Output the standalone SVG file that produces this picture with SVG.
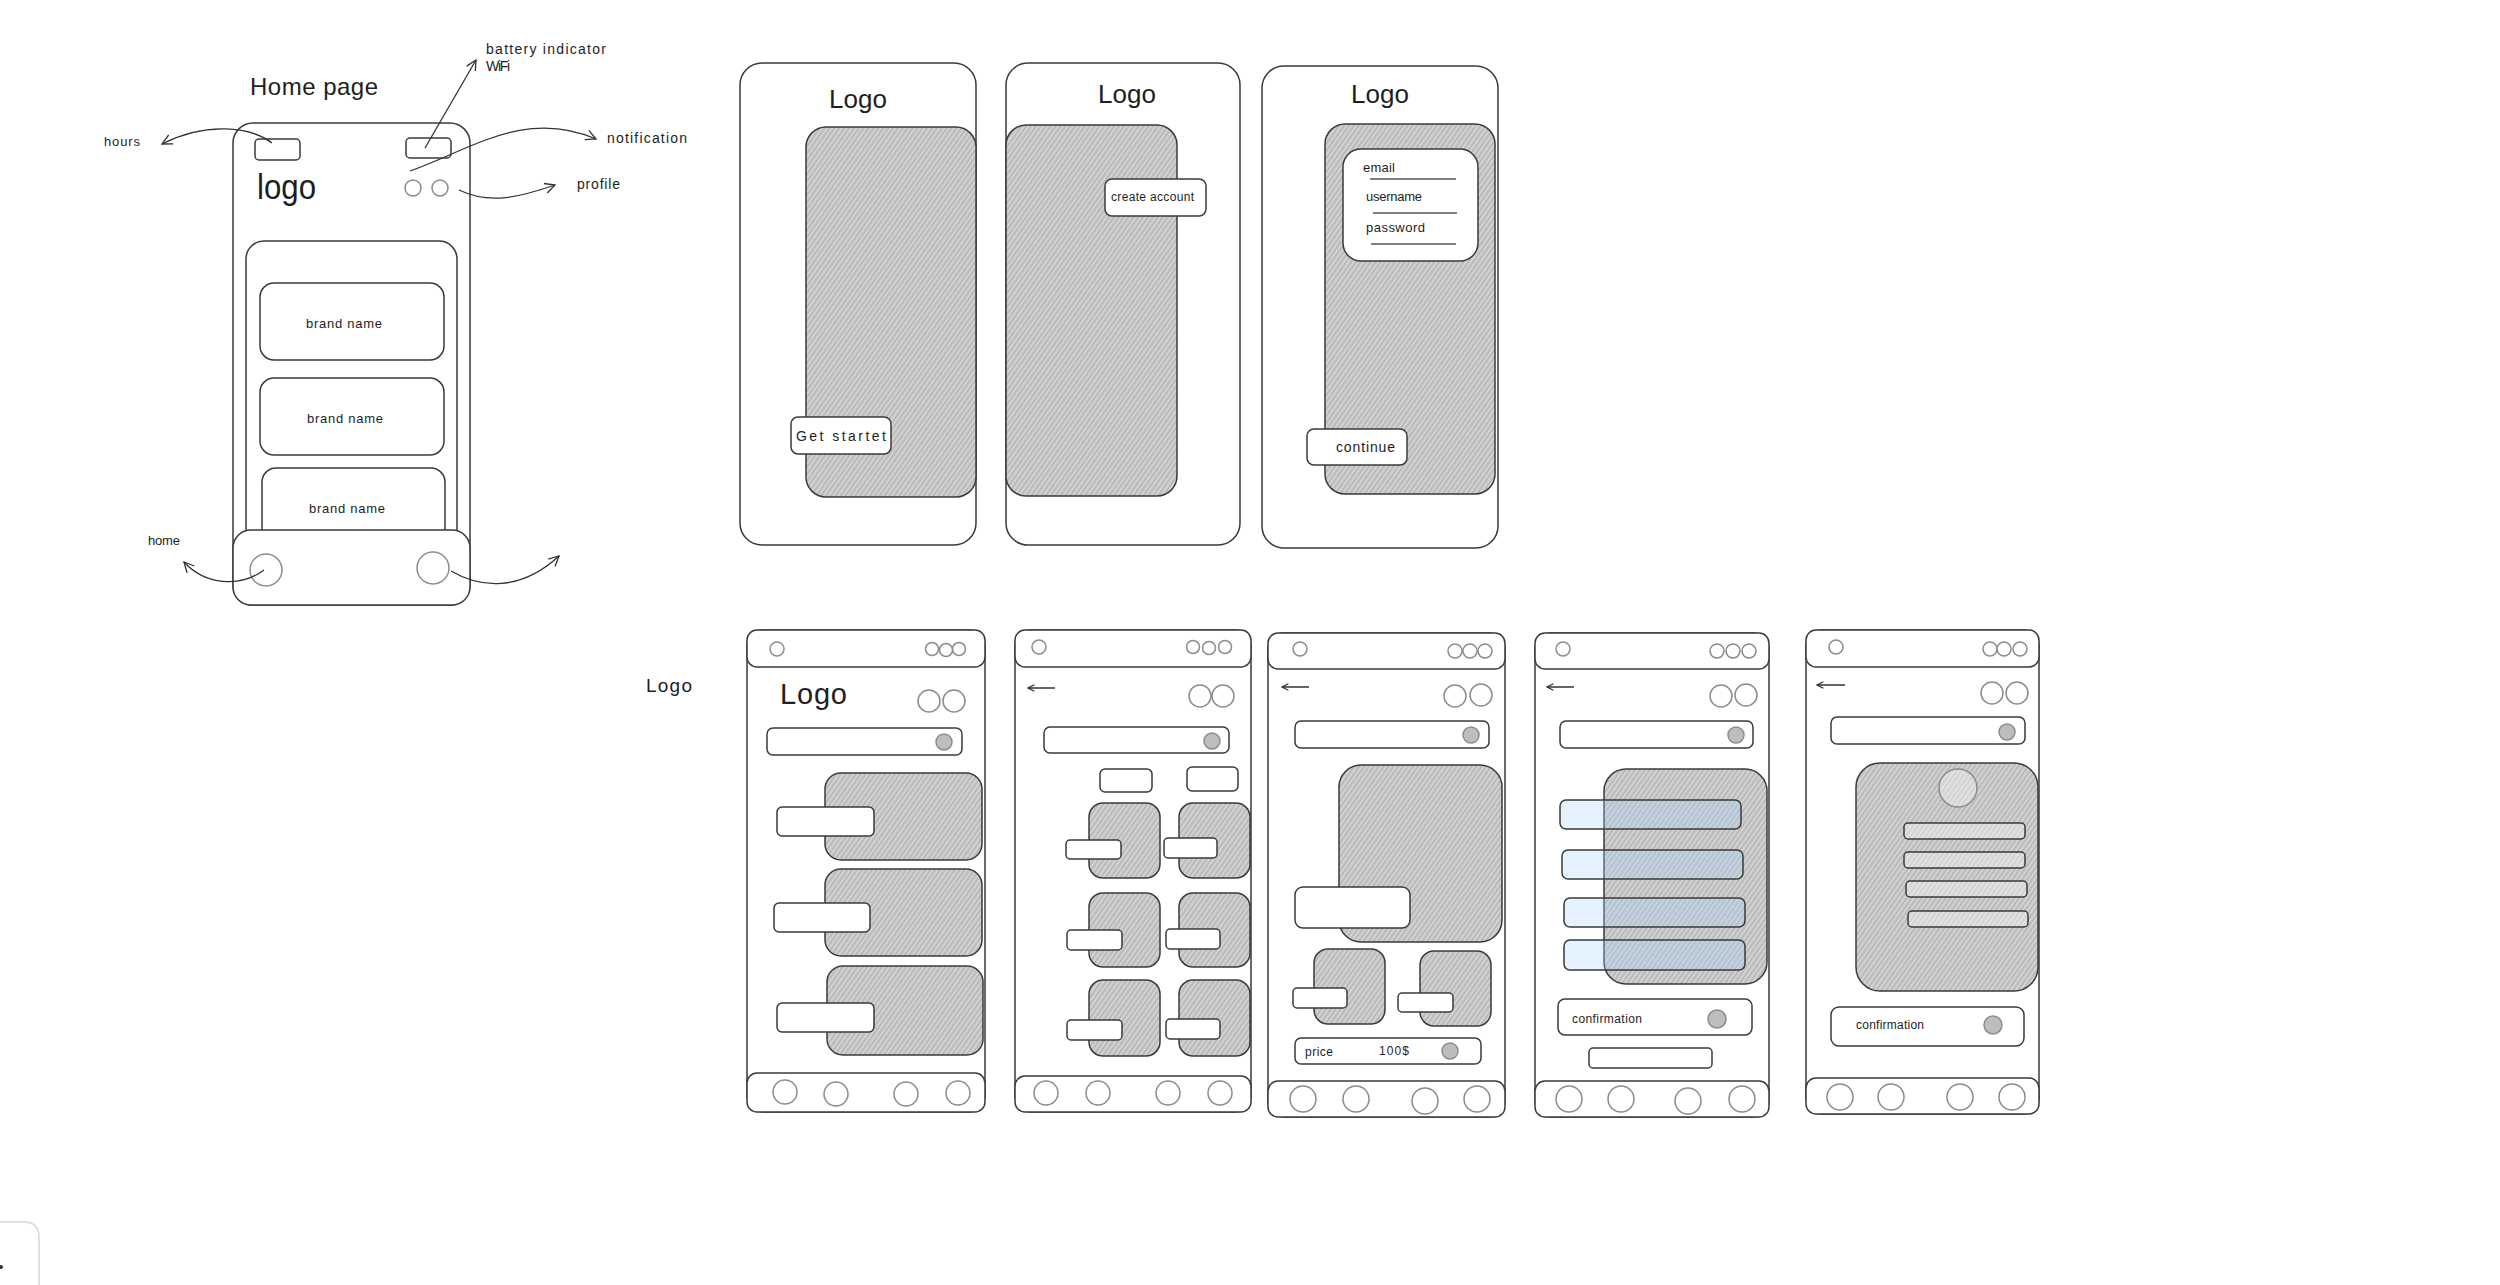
<svg xmlns="http://www.w3.org/2000/svg" width="2500" height="1285" viewBox="0 0 2500 1285">
<defs>
<pattern id="hatch" patternUnits="userSpaceOnUse" width="4" height="4" patternTransform="rotate(35)"><rect width="4" height="4" fill="#d2d2d2"/><line x1="1" y1="0" x2="1" y2="4" stroke="#a6a6a6" stroke-width="1.1"/></pattern>
<pattern id="hatchL" patternUnits="userSpaceOnUse" width="4" height="4" patternTransform="rotate(35)"><rect width="4" height="4" fill="#e2e2e2"/><line x1="1" y1="0" x2="1" y2="4" stroke="#c4c4c4" stroke-width="1"/></pattern>
<marker id="arr" viewBox="0 0 12 12" refX="11" refY="6" markerWidth="12" markerHeight="12" markerUnits="userSpaceOnUse" orient="auto"><path d="M1,1 L11,6 L1,11" fill="none" stroke="#333" stroke-width="1.3"/></marker>
<marker id="back" viewBox="0 0 10 10" refX="1" refY="5" markerWidth="8" markerHeight="8" markerUnits="userSpaceOnUse" orient="auto"><path d="M9,1 L1,5 L9,9" fill="none" stroke="#333" stroke-width="1.6"/></marker>
<style>
.s{fill:#fff;stroke:#3a3a3a;stroke-width:1.5}
.n{fill:none;stroke:#3a3a3a;stroke-width:1.5}
.g{fill:url(#hatch);stroke:#3a3a3a;stroke-width:1.5}
.gl{fill:url(#hatchL);stroke:#3a3a3a;stroke-width:1.5}
.b{fill:#a5d8ff;fill-opacity:.3;stroke:#3a3a3a;stroke-width:1.5}
.c{fill:none;stroke:#8c8c8c;stroke-width:1.5}
.gc{fill:#bdbdbd;stroke:#8c8c8c;stroke-width:1.5}
.ln{fill:none;stroke:#555;stroke-width:1.5}
.con{fill:none;stroke:#333;stroke-width:1.3;marker-end:url(#arr)}
.bk{fill:none;stroke:#333;stroke-width:1.5;marker-start:url(#back)}
text{font-family:"Liberation Sans","DejaVu Sans",sans-serif;fill:#1e1e1e}
.t11{font-size:12px}
.t12{font-size:13px}
.t13{font-size:14px}
.mid{text-anchor:middle}
</style>
</defs>
<rect width="2500" height="1285" fill="#fff"/>

<g id="home-page">
<text x="250" y="95" style="font-size:24px" textLength="128" lengthAdjust="spacing">Home page</text>
<rect class="s" x="233" y="123" width="237" height="482" rx="20"/>
<rect class="s" x="255" y="139" width="45" height="21" rx="4"/>
<rect class="s" x="406" y="138" width="45" height="20" rx="4"/>
<text x="257" y="199" style="font-size:35px" textLength="59" lengthAdjust="spacingAndGlyphs">logo</text>
<circle class="c" cx="413" cy="188" r="8"/>
<circle class="c" cx="440" cy="188" r="8"/>
<rect class="s" x="246" y="241" width="211" height="320" rx="18"/>
<rect class="s" x="260" y="283" width="184" height="77" rx="14"/>
<text class="t12 mid" x="344" y="328" textLength="76">brand name</text>
<rect class="s" x="260" y="378" width="184" height="77" rx="14"/>
<text class="t12 mid" x="345" y="423" textLength="76">brand name</text>
<rect class="s" x="262" y="468" width="183" height="80" rx="14"/>
<text class="t12 mid" x="347" y="513" textLength="76">brand name</text>
<rect class="s" x="233" y="530" width="237" height="75" rx="18"/>
<circle class="c" cx="266" cy="570" r="16"/>
<circle class="c" cx="433" cy="568" r="16"/>
</g>

<g id="home-labels">
<text class="t12" x="104" y="146" textLength="36">hours</text>
<text class="t13" x="486" y="54" textLength="120">battery indicator</text>
<text class="t13" x="486" y="71" textLength="24">WiFi</text>
<text class="t13" x="607" y="143" textLength="80">notification</text>
<text class="t13" x="577" y="189" textLength="43">profile</text>
<text class="t12" x="148" y="545" textLength="32">home</text>
</g>

<g id="connectors">
<path class="con" d="M272,143 C250,126 205,122 162,144"/>
<path class="con" d="M425,148 L476,60"/>
<path class="con" d="M410,171 C470,150 525,108 596,139"/>
<path class="con" d="M459,190 C490,205 520,197 555,185"/>
<path class="con" d="M264,570 C240,588 205,585 184,562"/>
<path class="con" d="M451,571 C480,588 520,592 559,556"/>
</g>

<g id="screen-get-started">
<rect class="s" x="740" y="63" width="236" height="482" rx="22"/>
<text x="829" y="108" style="font-size:26px">Logo</text>
<rect class="g" x="806" y="127" width="170" height="370" rx="20"/>
<rect class="s" x="791" y="417" width="100" height="37" rx="7"/>
<text class="t13" x="796" y="441" textLength="90">Get startet</text>
</g>

<g id="screen-create-account">
<rect class="s" x="1006" y="63" width="234" height="482" rx="22"/>
<text x="1098" y="103" style="font-size:26px">Logo</text>
<rect class="g" x="1006" y="125" width="171" height="371" rx="20"/>
<rect class="s" x="1105" y="179" width="101" height="37" rx="7"/>
<text class="t11" x="1111" y="201" textLength="83">create account</text>
</g>

<g id="screen-login">
<rect class="s" x="1262" y="66" width="236" height="482" rx="22"/>
<text x="1351" y="103" style="font-size:26px">Logo</text>
<rect class="g" x="1325" y="124" width="170" height="370" rx="20"/>
<rect class="s" x="1343" y="149" width="135" height="112" rx="18"/>
<text class="t12" x="1363" y="172" textLength="32">email</text>
<line class="ln" x1="1370" y1="179" x2="1456" y2="179"/>
<text class="t12" x="1366" y="201" textLength="56">username</text>
<line class="ln" x1="1373" y1="213" x2="1457" y2="213"/>
<text class="t12" x="1366" y="232" textLength="59">password</text>
<line class="ln" x1="1371" y1="244" x2="1456" y2="244"/>
<rect class="s" x="1307" y="429" width="100" height="36" rx="7"/>
<text class="t13" x="1336" y="452" textLength="59">continue</text>
</g>

<g id="label-logo">
<text x="646" y="692" style="font-size:19px" textLength="46">Logo</text>
</g>

<g id="phone-home">
<rect class="s" x="747" y="630" width="238" height="482" rx="16"/>
<rect class="s" x="747" y="630" width="238" height="37" rx="10"/>
<circle class="c" cx="777" cy="649" r="7"/>
<circle class="c" cx="932" cy="649" r="6.5"/>
<circle class="c" cx="946" cy="650" r="6.5"/>
<circle class="c" cx="959" cy="649" r="6.5"/>
<text x="780" y="704" style="font-size:29px" textLength="67">Logo</text>
<circle class="c" cx="929" cy="701" r="11"/>
<circle class="c" cx="954" cy="701" r="11"/>
<rect class="s" x="767" y="728" width="195" height="27" rx="6"/>
<circle class="gc" cx="944" cy="742" r="8"/>
<rect class="g" x="825" y="773" width="157" height="87" rx="16"/>
<rect class="s" x="777" y="807" width="97" height="29" rx="5"/>
<rect class="g" x="825" y="869" width="157" height="87" rx="16"/>
<rect class="s" x="774" y="903" width="96" height="29" rx="5"/>
<rect class="g" x="827" y="966" width="156" height="89" rx="16"/>
<rect class="s" x="777" y="1003" width="97" height="29" rx="5"/>
<rect class="s" x="747" y="1073" width="238" height="39" rx="10"/>
<circle class="c" cx="785" cy="1092" r="12"/>
<circle class="c" cx="836" cy="1094" r="12"/>
<circle class="c" cx="906" cy="1094" r="12"/>
<circle class="c" cx="958" cy="1093" r="12"/>
</g>

<g id="phone-catalog">
<rect class="s" x="1015" y="630" width="236" height="482" rx="16"/>
<rect class="s" x="1015" y="630" width="236" height="37" rx="10"/>
<circle class="c" cx="1039" cy="647" r="7"/>
<circle class="c" cx="1193" cy="647" r="6.5"/>
<circle class="c" cx="1209" cy="648" r="6.5"/>
<circle class="c" cx="1225" cy="647" r="6.5"/>
<line class="bk" x1="1028" y1="688" x2="1055" y2="688"/>
<circle class="c" cx="1200" cy="696" r="11"/>
<circle class="c" cx="1223" cy="696" r="11"/>
<rect class="s" x="1044" y="727" width="185" height="26" rx="6"/>
<circle class="gc" cx="1212" cy="741" r="8"/>
<rect class="s" x="1100" y="769" width="52" height="23" rx="5"/>
<rect class="s" x="1187" y="767" width="51" height="24" rx="5"/>
<rect class="g" x="1089" y="803" width="71" height="75" rx="14"/>
<rect class="g" x="1179" y="803" width="71" height="75" rx="14"/>
<rect class="g" x="1089" y="893" width="71" height="74" rx="14"/>
<rect class="g" x="1179" y="893" width="71" height="74" rx="14"/>
<rect class="g" x="1089" y="980" width="71" height="76" rx="14"/>
<rect class="g" x="1179" y="980" width="71" height="76" rx="14"/>
<rect class="s" x="1066" y="840" width="55" height="19" rx="4"/>
<rect class="s" x="1164" y="838" width="53" height="20" rx="4"/>
<rect class="s" x="1067" y="930" width="55" height="20" rx="4"/>
<rect class="s" x="1166" y="929" width="54" height="20" rx="4"/>
<rect class="s" x="1067" y="1020" width="55" height="20" rx="4"/>
<rect class="s" x="1166" y="1019" width="54" height="20" rx="4"/>
<rect class="s" x="1015" y="1076" width="236" height="36" rx="10"/>
<circle class="c" cx="1046" cy="1093" r="12"/>
<circle class="c" cx="1098" cy="1093" r="12"/>
<circle class="c" cx="1168" cy="1093" r="12"/>
<circle class="c" cx="1220" cy="1093" r="12"/>
</g>

<g id="phone-product">
<rect class="s" x="1268" y="633" width="237" height="484" rx="16"/>
<rect class="s" x="1268" y="633" width="237" height="36" rx="10"/>
<circle class="c" cx="1300" cy="649" r="7"/>
<circle class="c" cx="1455" cy="651" r="7"/>
<circle class="c" cx="1470" cy="651" r="7"/>
<circle class="c" cx="1485" cy="651" r="7"/>
<line class="bk" x1="1282" y1="687" x2="1309" y2="687"/>
<circle class="c" cx="1455" cy="696" r="11"/>
<circle class="c" cx="1481" cy="695" r="11"/>
<rect class="s" x="1295" y="721" width="194" height="27" rx="6"/>
<circle class="gc" cx="1471" cy="735" r="8"/>
<rect class="g" x="1339" y="765" width="163" height="177" rx="22"/>
<rect class="s" x="1295" y="887" width="115" height="41" rx="8"/>
<rect class="g" x="1314" y="949" width="71" height="75" rx="14"/>
<rect class="s" x="1293" y="988" width="54" height="20" rx="4"/>
<rect class="g" x="1420" y="951" width="71" height="75" rx="14"/>
<rect class="s" x="1398" y="993" width="55" height="19" rx="4"/>
<rect class="s" x="1295" y="1038" width="186" height="26" rx="6"/>
<text class="t11" x="1305" y="1056" textLength="28">price</text>
<text class="t11" x="1379" y="1055" textLength="30">100$</text>
<circle class="gc" cx="1450" cy="1051" r="8"/>
<rect class="s" x="1268" y="1081" width="237" height="36" rx="10"/>
<circle class="c" cx="1303" cy="1099" r="13"/>
<circle class="c" cx="1356" cy="1099" r="13"/>
<circle class="c" cx="1425" cy="1101" r="13"/>
<circle class="c" cx="1477" cy="1099" r="13"/>
</g>

<g id="phone-options">
<rect class="s" x="1535" y="633" width="234" height="484" rx="16"/>
<rect class="s" x="1535" y="633" width="234" height="36" rx="10"/>
<circle class="c" cx="1563" cy="649" r="7"/>
<circle class="c" cx="1717" cy="651" r="7"/>
<circle class="c" cx="1733" cy="651" r="7"/>
<circle class="c" cx="1749" cy="651" r="7"/>
<line class="bk" x1="1547" y1="687" x2="1574" y2="687"/>
<circle class="c" cx="1721" cy="696" r="11"/>
<circle class="c" cx="1746" cy="695" r="11"/>
<rect class="s" x="1560" y="721" width="193" height="27" rx="6"/>
<circle class="gc" cx="1736" cy="735" r="8"/>
<rect class="g" x="1604" y="769" width="163" height="215" rx="22"/>
<rect class="b" x="1560" y="800" width="181" height="29" rx="6"/>
<rect class="b" x="1562" y="850" width="181" height="29" rx="6"/>
<rect class="b" x="1564" y="898" width="181" height="29" rx="6"/>
<rect class="b" x="1564" y="940" width="181" height="30" rx="6"/>
<rect class="s" x="1558" y="999" width="194" height="36" rx="7"/>
<text class="t11" x="1572" y="1023" textLength="70">confirmation</text>
<circle class="gc" cx="1717" cy="1019" r="9"/>
<rect class="s" x="1589" y="1048" width="123" height="20" rx="4"/>
<rect class="s" x="1535" y="1081" width="234" height="36" rx="10"/>
<circle class="c" cx="1569" cy="1099" r="13"/>
<circle class="c" cx="1621" cy="1099" r="13"/>
<circle class="c" cx="1688" cy="1101" r="13"/>
<circle class="c" cx="1742" cy="1099" r="13"/>
</g>

<g id="phone-profile">
<rect class="s" x="1806" y="630" width="233" height="484" rx="16"/>
<rect class="s" x="1806" y="630" width="233" height="37" rx="10"/>
<circle class="c" cx="1836" cy="647" r="7"/>
<circle class="c" cx="1990" cy="649" r="7"/>
<circle class="c" cx="2004" cy="649" r="7"/>
<circle class="c" cx="2020" cy="649" r="7"/>
<line class="bk" x1="1817" y1="685" x2="1845" y2="685"/>
<circle class="c" cx="1992" cy="693" r="11"/>
<circle class="c" cx="2017" cy="693" r="11"/>
<rect class="s" x="1831" y="717" width="194" height="27" rx="6"/>
<circle class="gc" cx="2007" cy="732" r="8"/>
<rect class="g" x="1856" y="763" width="182" height="228" rx="24"/>
<circle cx="1958" cy="788" r="19" fill="url(#hatchL)" stroke="#8c8c8c" stroke-width="1.5"/>
<rect class="gl" x="1904" y="823" width="121" height="16" rx="4"/>
<rect class="gl" x="1904" y="852" width="121" height="16" rx="4"/>
<rect class="gl" x="1906" y="881" width="121" height="16" rx="4"/>
<rect class="gl" x="1908" y="911" width="120" height="16" rx="4"/>
<rect class="s" x="1831" y="1007" width="193" height="39" rx="8"/>
<text class="t11" x="1856" y="1029" textLength="68">confirmation</text>
<circle class="gc" cx="1993" cy="1025" r="9"/>
<rect class="s" x="1806" y="1078" width="233" height="36" rx="10"/>
<circle class="c" cx="1840" cy="1097" r="13"/>
<circle class="c" cx="1891" cy="1097" r="13"/>
<circle class="c" cx="1960" cy="1097" r="13"/>
<circle class="c" cx="2012" cy="1097" r="13"/>
</g>

<g id="corner-panel">
<path d="M-20,1222 L24,1222 Q39,1222 39,1237 L39,1290" fill="none" stroke="#d6d6d6" stroke-width="1.5"/>
<circle cx="1" cy="1267" r="2" fill="#333"/>
</g>
</svg>
